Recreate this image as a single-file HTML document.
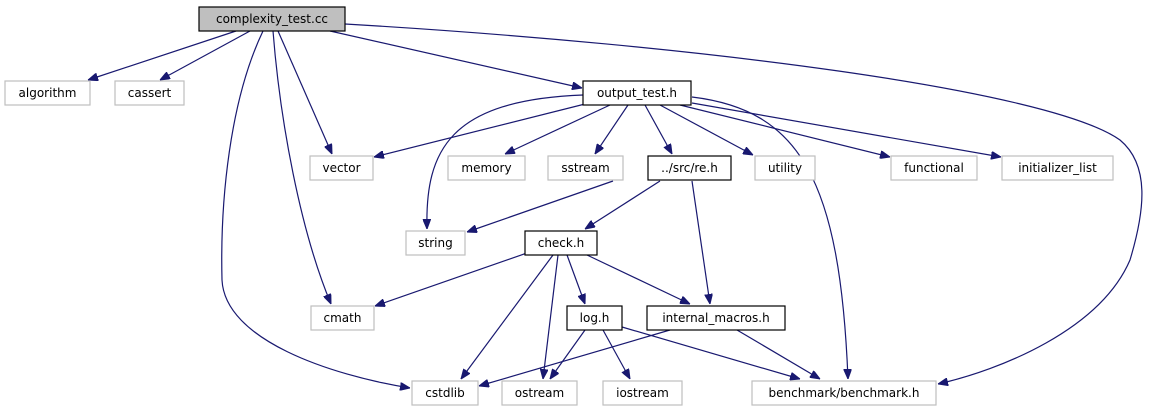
<!DOCTYPE html>
<html><head><meta charset="utf-8"><style>
body{margin:0;background:#fff;}
svg text{font-family:"DejaVu Sans","Liberation Sans",sans-serif;font-size:12px;}
</style></head><body>
<svg width="1156" height="411" xmlns="http://www.w3.org/2000/svg">
<defs><marker id="a" viewBox="0 0 10 8" refX="10" refY="4" markerWidth="10" markerHeight="8" markerUnits="userSpaceOnUse" orient="auto"><path d="M0,0L10,4L0,8z" fill="#191970" stroke="#191970"/></marker></defs>
<g fill="none" stroke="#191970" stroke-width="1.2" marker-end="url(#a)">
<path d="M236,31L88,80"/>
<path d="M250,31L160,80"/>
<path d="M263,31C230,100 220,200 222,280C225,340 330,375 410,388"/>
<path d="M273,31C280,120 300,230 331,304"/>
<path d="M278,31L332,154"/>
<path d="M330,31L582,88"/>
<path d="M345,24C700,45 1050,90 1120,140C1150,165 1145,210 1130,260C1100,330 1000,370 938,384"/>
<path d="M583,95C450,100 425,150 427,229"/>
<path d="M585,104L374,157"/>
<path d="M610,105L505,154"/>
<path d="M628,105L595,154"/>
<path d="M645,105L672,154"/>
<path d="M660,105L753,155"/>
<path d="M680,105L890,157"/>
<path d="M692,103L1001,157"/>
<path d="M692,97C800,110 840,180 848,379"/>
<path d="M613,181L467,232"/>
<path d="M660,181L585,229"/>
<path d="M692,181L710,304"/>
<path d="M527,253L375,306"/>
<path d="M553,255L461,379"/>
<path d="M558,255L543,379"/>
<path d="M567,255L585,304"/>
<path d="M587,255L690,304"/>
<path d="M585,330L550,379"/>
<path d="M603,330L630,379"/>
<path d="M622,327L800,379"/>
<path d="M670,330L479,386"/>
<path d="M737,330L820,379"/>
</g>
<g stroke-width="1.2">
<rect x="199" y="7" width="146" height="24" fill="#bfbfbf" stroke="#000"/>
<rect x="5" y="81" width="85" height="24" fill="#fff" stroke="#bfbfbf"/>
<rect x="115" y="81" width="69" height="24" fill="#fff" stroke="#bfbfbf"/>
<rect x="583" y="81" width="108" height="24" fill="#fff" stroke="#000"/>
<rect x="310" y="156" width="63" height="24" fill="#fff" stroke="#bfbfbf"/>
<rect x="448" y="156" width="77" height="24" fill="#fff" stroke="#bfbfbf"/>
<rect x="548" y="156" width="75" height="24" fill="#fff" stroke="#bfbfbf"/>
<rect x="648" y="156" width="83" height="24" fill="#fff" stroke="#000"/>
<rect x="755" y="156" width="60" height="24" fill="#fff" stroke="#bfbfbf"/>
<rect x="891" y="156" width="86" height="24" fill="#fff" stroke="#bfbfbf"/>
<rect x="1002" y="156" width="111" height="24" fill="#fff" stroke="#bfbfbf"/>
<rect x="406" y="231" width="59" height="24" fill="#fff" stroke="#bfbfbf"/>
<rect x="525" y="231" width="72" height="24" fill="#fff" stroke="#000"/>
<rect x="311" y="306" width="63" height="24" fill="#fff" stroke="#bfbfbf"/>
<rect x="567" y="306" width="55" height="24" fill="#fff" stroke="#000"/>
<rect x="647" y="306" width="138" height="24" fill="#fff" stroke="#000"/>
<rect x="412" y="381" width="66" height="24" fill="#fff" stroke="#bfbfbf"/>
<rect x="502" y="381" width="75" height="24" fill="#fff" stroke="#bfbfbf"/>
<rect x="603" y="381" width="79" height="24" fill="#fff" stroke="#bfbfbf"/>
<rect x="752" y="381" width="184" height="24" fill="#fff" stroke="#bfbfbf"/>
</g>
<g text-anchor="middle" fill="#000">
<text x="272" y="23">complexity_test.cc</text>
<text x="47.5" y="97">algorithm</text>
<text x="149.5" y="97">cassert</text>
<text x="637" y="97">output_test.h</text>
<text x="341.5" y="172">vector</text>
<text x="486.5" y="172">memory</text>
<text x="585.5" y="172">sstream</text>
<text x="689.5" y="172">../src/re.h</text>
<text x="785" y="172">utility</text>
<text x="934" y="172">functional</text>
<text x="1057.5" y="172">initializer_list</text>
<text x="435.5" y="247">string</text>
<text x="561" y="247">check.h</text>
<text x="342.5" y="322">cmath</text>
<text x="594.5" y="322">log.h</text>
<text x="716" y="322">internal_macros.h</text>
<text x="445" y="397">cstdlib</text>
<text x="539.5" y="397">ostream</text>
<text x="642.5" y="397">iostream</text>
<text x="844" y="397">benchmark/benchmark.h</text>
</g>
</svg>
</body></html>
